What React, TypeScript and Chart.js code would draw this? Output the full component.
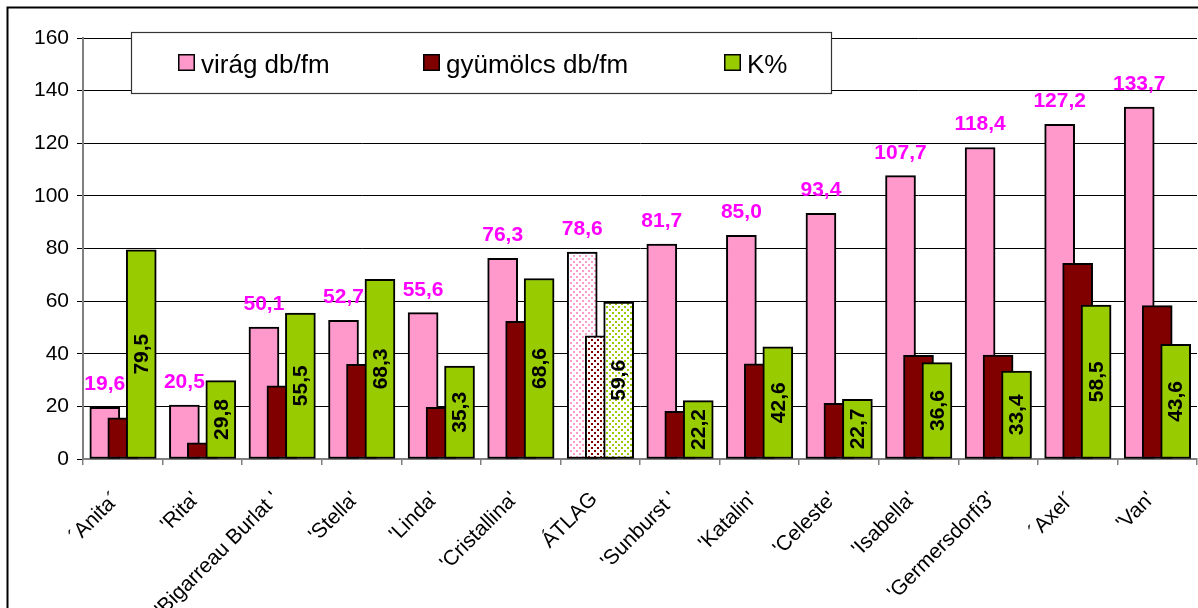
import React, { useEffect, useRef } from "react";
import { Chart, registerables } from "chart.js";

Chart.register(...registerables);

const categories = [
  "´Anita´",
  "'Rita'",
  "'Bigarreau Burlat '",
  "'Stella'",
  "'Linda'",
  "'Cristallina'",
  "ÁTLAG",
  "'Sunburst '",
  "'Katalin'",
  "'Celeste'",
  "'Isabella'",
  "'Germersdorfi3'",
  "´Axel´",
  "'Van'",
];
const viragValues = [19.6, 20.5, 50.1, 52.7, 55.6, 76.3, 78.6, 81.7, 85.0, 93.4, 107.7, 118.4, 127.2, 133.7];
const gyumolcsValues = [15.6, 6.1, 27.8, 36.0, 19.6, 52.3, 46.8, 18.1, 36.2, 21.2, 39.4, 39.5, 74.4, 58.3];
const kValues = [79.5, 29.8, 55.5, 68.3, 35.3, 68.6, 59.6, 22.2, 42.6, 22.7, 36.6, 33.4, 58.5, 43.6];
const seriesNames = ["virág db/fm", "gyümölcs db/fm", "K%"];
const seriesColors = ["#FF99CC", "#800000", "#99CC00"];
const averageCategory = "ÁTLAG";
const yMin = 0;
const yMax = 160;
const yStep = 20;

const FONT = '"Liberation Sans", Arial, Helvetica, sans-serif';
const seriesOffsets = [-0.226, 0, 0.232];
const legendItemX = [178, 423, 724];

const fmt = (v: number) => v.toFixed(1).replace(".", ",");

const valueLabels = {
  id: "valueLabels",
  afterDatasetsDraw(chart: any) {
    const ctx = chart.ctx;
    ctx.save();
    ctx.font = `bold 21px ${FONT}`;
    ctx.textAlign = "center";
    const m0 = chart.getDatasetMeta(0);
    ctx.fillStyle = "#FF00FF";
    ctx.textBaseline = "alphabetic";
    m0.data.forEach((el: any, i: number) => {
      ctx.fillText(fmt(viragValues[i]), el.x, el.y - 17);
    });
    const m2 = chart.getDatasetMeta(2);
    ctx.fillStyle = "#000";
    ctx.textBaseline = "middle";
    m2.data.forEach((el: any, i: number) => {
      ctx.save();
      ctx.translate(el.x + 1, (el.y + el.base) / 2);
      ctx.rotate(-Math.PI / 2);
      ctx.fillText(fmt(kValues[i]), 0, 0);
      ctx.restore();
    });
    ctx.restore();
  },
};

const frameAndLegend = {
  id: "frameAndLegend",
  afterDraw(chart: any) {
    const ctx = chart.ctx;
    ctx.save();
    ctx.strokeStyle = "#000";
    ctx.lineWidth = 2;
    ctx.strokeRect(7.5, 7.5, 3000, 3000);
    ctx.fillStyle = "#fff";
    ctx.fillRect(131, 32, 701, 61);
    ctx.strokeStyle = "#333";
    ctx.lineWidth = 1.2;
    ctx.strokeRect(131.5, 32.5, 700, 61);
    chart.data.datasets.forEach((ds: any, i: number) => {
      const x = legendItemX[i];
      ctx.fillStyle = seriesColors[i];
      ctx.fillRect(x, 54, 17, 17);
      ctx.strokeStyle = "#000";
      ctx.lineWidth = 1.5;
      ctx.strokeRect(x + 0.75, 54.75, 15.5, 15.5);
      ctx.fillStyle = "#000";
      ctx.font = `26px ${FONT}`;
      ctx.textAlign = "left";
      ctx.textBaseline = "alphabetic";
      ctx.fillText(ds.label, x + 23, 72.5);
    });
    ctx.restore();
  },
};

function makePattern(ctx: CanvasRenderingContext2D, color: string) {
  const tile = document.createElement("canvas");
  tile.width = 6;
  tile.height = 6;
  const g = tile.getContext("2d")!;
  g.fillStyle = "#fff";
  g.fillRect(0, 0, 6, 6);
  g.fillStyle = color;
  g.fillRect(0, 0, 2, 2);
  g.fillRect(3, 3, 2, 2);
  return ctx.createPattern(tile, "repeat");
}

export default function App() {
  const ref = useRef<HTMLCanvasElement | null>(null);

  useEffect(() => {
    const canvas = ref.current;
    if (!canvas) return;
    const ctx = canvas.getContext("2d")!;
    const seriesValues = [viragValues, gyumolcsValues, kValues];
    const avgIdx = categories.indexOf(averageCategory);

    const datasets = seriesValues.map((vals, s) => {
      const pattern = makePattern(ctx, seriesColors[s]);
      return {
        label: seriesNames[s],
        data: vals.map((v, i) => ({ x: i + seriesOffsets[s], y: v })),
        backgroundColor: vals.map((_, i) => (i === avgIdx ? pattern : seriesColors[s])),
        borderColor: "#000",
        borderWidth: 2,
        borderSkipped: false,
        xAxisID: "xBars",
        yAxisID: "y",
        order: 3 - s,
        barThickness: 30,
        grouped: false,
      };
    });

    const chart = new Chart(ctx, {
      type: "bar",
      data: { labels: categories, datasets: datasets as any },
      options: {
        responsive: false,
        animation: false,
        devicePixelRatio: 1,
        events: [],
        layout: { padding: { top: 38, right: 1, left: 0, bottom: 0 } },
        plugins: {
          legend: { display: false },
          tooltip: { enabled: false },
          title: { display: false },
        },
        scales: {
          xBars: {
            type: "linear",
            display: false,
            offset: false,
            grid: { offset: false },
            min: -0.5,
            max: categories.length - 0.5,
          },
          x: {
            type: "category",
            labels: categories,
            offset: true,
            position: "bottom",
            grid: {
              offset: true,
              drawOnChartArea: false,
              drawTicks: true,
              tickLength: 6,
              color: "#808080",
              lineWidth: 1.5,
            },
            border: { display: true, color: "#808080", width: 2 },
            ticks: {
              autoSkip: false,
              minRotation: 45,
              maxRotation: 45,
              color: "#000",
              padding: 22,
              labelOffset: -6,
              font: { family: FONT, size: 21 },
            },
            afterFit: (s: any) => {
              s.height = 149;
            },
          },
          y: {
            type: "linear",
            min: yMin,
            max: yMax,
            ticks: {
              stepSize: yStep,
              color: "#000",
              padding: 8,
              font: { family: FONT, size: 21 },
            },
            grid: { color: "#000", lineWidth: 1, tickLength: 6 },
            border: { display: true, color: "#808080", width: 2 },
            afterFit: (s: any) => {
              s.width = 83;
            },
          },
        },
      } as any,
      plugins: [valueLabels, frameAndLegend],
    });
    return () => chart.destroy();
  }, []);

  return (
    <div
      style={{
        position: "fixed",
        left: 0,
        top: 0,
        width: 1198,
        height: 608,
        overflow: "hidden",
        background: "#fff",
      }}
    >
      <canvas ref={ref} width={1198} height={608} style={{ display: "block", width: 1198, height: 608 }} />
    </div>
  );
}
